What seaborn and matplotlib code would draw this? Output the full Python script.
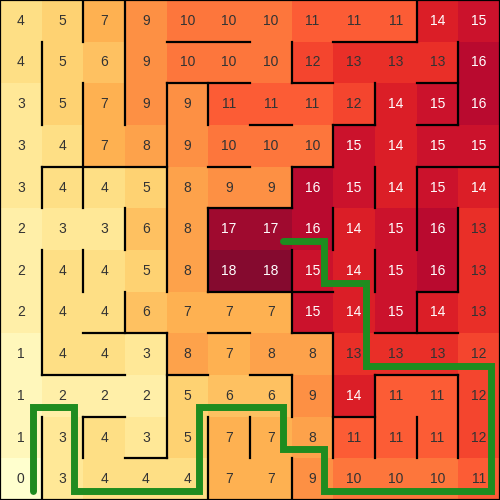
import numpy as np
import matplotlib
matplotlib.use("Agg")
import matplotlib.pyplot as plt
import seaborn as sns

# cell values of the maze (rows top to bottom)
grid = [
    [4, 5, 7, 9, 10, 10, 10, 11, 11, 11, 14, 15],
    [4, 5, 6, 9, 10, 10, 10, 12, 13, 13, 13, 16],
    [3, 5, 7, 9, 9, 11, 11, 11, 12, 14, 15, 16],
    [3, 4, 7, 8, 9, 10, 10, 10, 15, 14, 15, 15],
    [3, 4, 4, 5, 8, 9, 9, 16, 15, 14, 15, 14],
    [2, 3, 3, 6, 8, 17, 17, 16, 14, 15, 16, 13],
    [2, 4, 4, 5, 8, 18, 18, 15, 14, 15, 16, 13],
    [2, 4, 4, 6, 7, 7, 7, 15, 14, 15, 14, 13],
    [1, 4, 4, 3, 8, 7, 8, 8, 13, 13, 13, 12],
    [1, 2, 2, 2, 5, 6, 6, 9, 14, 11, 11, 12],
    [1, 3, 4, 3, 5, 7, 7, 8, 11, 11, 11, 12],
    [0, 3, 4, 4, 4, 7, 7, 9, 10, 10, 10, 11],
]

# walls: vertical (x, y0, y1), horizontal (y, x0, x1) in cell units
v_walls = [
    (0, 0, 12), (12, 0, 12),
    (1, 1, 3), (1, 4, 5), (1, 6, 9), (1, 10, 12),
    (2, 0, 1), (2, 2, 5), (2, 6, 7), (2, 10, 11),
    (3, 0, 3), (3, 5, 6), (3, 7, 8),
    (4, 2, 7), (4, 8, 11),
    (5, 2, 3), (5, 5, 7), (5, 10, 12),
    (6, 10, 11),
    (7, 1, 2), (7, 4, 5), (7, 6, 8), (7, 9, 10), (7, 11, 12),
    (8, 3, 4), (8, 5, 6), (8, 8, 11),
    (9, 2, 3), (9, 4, 5), (9, 6, 7), (9, 9, 11),
    (10, 0, 1), (10, 4, 6), (10, 7, 8), (10, 10, 11),
    (11, 1, 3), (11, 5, 7), (11, 9, 11),
]
h_walls = [
    (0, 0, 12), (12, 0, 12),
    (1, 4, 6), (1, 8, 10),
    (2, 4, 6), (2, 7, 8), (2, 10, 11),
    (3, 6, 7), (3, 8, 9), (3, 10, 11),
    (4, 1, 4), (4, 5, 6), (4, 7, 8), (4, 10, 12),
    (5, 5, 7),
    (7, 5, 8), (7, 10, 11),
    (8, 2, 4), (8, 5, 6), (8, 7, 8), (8, 9, 11),
    (9, 1, 3), (9, 4, 5), (9, 6, 7), (9, 9, 11),
    (10, 2, 3), (10, 8, 9),
    (11, 3, 4),
]

# solution path, corner cells (col, row)
path_cols = [0, 0, 1, 1, 4, 4, 6, 6, 7, 7, 11, 11, 8, 8, 7, 7, 6]
path_rows = [11, 9, 9, 11, 11, 9, 9, 10, 10, 11, 11, 8, 8, 6, 6, 5, 5]

vals = np.array(grid)

fig = plt.figure(figsize=(5, 5), dpi=100)
ax = fig.add_axes([0, 0, 1, 1])
sns.heatmap(vals, cmap="YlOrRd", vmin=0, vmax=18, cbar=False, annot=True, fmt="d",
            alpha=0.96, annot_kws={"fontsize": 10, "family": "Liberation Sans"},
            xticklabels=False, yticklabels=False, ax=ax)

# text colour: white on the dark cells
for t, v in zip(ax.texts, vals.flatten()):
    t.set_color("white" if v >= 14 else "#333333")

for x, y0, y1 in v_walls:
    ax.plot([x, x], [y0, y1], color="black", lw=1.6, solid_capstyle="projecting", clip_on=False)
for y, x0, x1 in h_walls:
    ax.plot([x0, x1], [y, y], color="black", lw=1.6, solid_capstyle="projecting", clip_on=False)

off = 0.78
ax.plot(np.array(path_cols) + off, np.array(path_rows) + off, color="#1f8c1f", lw=5,
        solid_capstyle="round", solid_joinstyle="miter")

ax.set_xlim(0, 12)
ax.set_ylim(12, 0)
ax.axis("off")

plt.savefig("out.png", dpi=100)
